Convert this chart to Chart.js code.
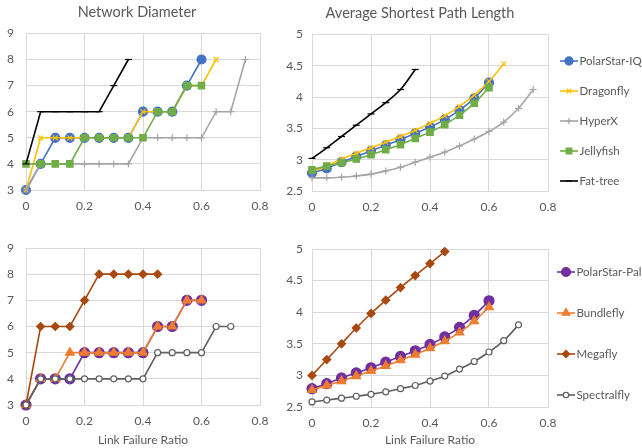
<!DOCTYPE html>
<html>
<head>
<meta charset="utf-8">
<script src="https://cdn.jsdelivr.net/npm/chart.js@4.4.0/dist/chart.umd.min.js"></script>
<style>
  body { margin: 0; background: #fff; }
  #wrap { position: relative; width: 642px; height: 448px; overflow: hidden; }
  canvas { position: absolute; }
</style>
</head>
<body>
<div id="wrap">
  <canvas id="diamTop" width="274" height="220" style="left:0;top:0"></canvas>
  <canvas id="asplTop" width="366" height="220" style="left:276px;top:0"></canvas>
  <canvas id="diamBot" width="274" height="228" style="left:0;top:220px"></canvas>
  <canvas id="asplBot" width="366" height="228" style="left:276px;top:220px"></canvas>
</div>
<script>
// link failure ratio on the x axis
var failRatio = [0, 0.05, 0.1, 0.15, 0.2, 0.25, 0.3, 0.35, 0.4, 0.45, 0.5, 0.55, 0.6, 0.65, 0.7, 0.75];
var xTicks = [0, 0.2, 0.4, 0.6, 0.8];

// network diameter, top group
var diamPolarIQ  = [3, 4, 5, 5, 5, 5, 5, 5, 6, 6, 6, 7, 8];
var diamDragon   = [3, 5, 5, 5, 5, 5, 5, 5, 6, 6, 6, 7, 7, 8];
var diamHyperX   = [3, 4, 4, 4, 4, 4, 4, 4, 5, 5, 5, 5, 5, 6, 6, 8];
var diamJelly    = [4, 4, 4, 4, 5, 5, 5, 5, 5, 6, 6, 7, 7];
var diamFatTree  = [4, 6, 6, 6, 6, 6, 7, 8];

// average shortest path length, top group
var asplPolarIQ  = [2.79, 2.86, 2.96, 3.05, 3.14, 3.23, 3.32, 3.42, 3.52, 3.64, 3.79, 3.98, 4.23];
var asplDragon   = [2.81, 2.90, 3.01, 3.10, 3.19, 3.28, 3.37, 3.47, 3.58, 3.70, 3.85, 4.03, 4.25, 4.53];
var asplHyperX   = [2.71, 2.71, 2.72, 2.74, 2.77, 2.82, 2.88, 2.96, 3.04, 3.12, 3.22, 3.33, 3.45, 3.60, 3.82, 4.12];
var asplJelly    = [2.84, 2.90, 2.95, 3.01, 3.08, 3.16, 3.24, 3.34, 3.44, 3.56, 3.71, 3.90, 4.15];
var asplFatTree  = [3.02, 3.19, 3.37, 3.55, 3.73, 3.91, 4.12, 4.44];

// network diameter, bottom group
var diamPolarPal = [3, 4, 4, 4, 5, 5, 5, 5, 5, 6, 6, 7, 7];
var diamBundle   = [3, 4, 4, 5, 5, 5, 5, 5, 5, 6, 6, 7, 7];
var diamMega     = [3, 6, 6, 6, 7, 8, 8, 8, 8, 8];
var diamSpectral = [3, 4, 4, 4, 4, 4, 4, 4, 4, 5, 5, 5, 5, 6, 6];

// average shortest path length, bottom group
var asplPolarPal = [2.79, 2.87, 2.96, 3.04, 3.12, 3.21, 3.30, 3.39, 3.49, 3.61, 3.76, 3.95, 4.18];
var asplBundle   = [2.77, 2.84, 2.91, 2.99, 3.07, 3.15, 3.24, 3.33, 3.43, 3.54, 3.68, 3.86, 4.08];
var asplMega     = [3.00, 3.25, 3.50, 3.75, 3.98, 4.19, 4.39, 4.58, 4.77, 4.96];
var asplSpectral = [2.58, 2.61, 2.64, 2.67, 2.70, 2.74, 2.79, 2.84, 2.91, 2.99, 3.10, 3.22, 3.37, 3.55, 3.80];

var FONT = 'Lato, "Open Sans", sans-serif';
var TEXT = '#595959';
var GRID = '#d9d9d9';
Chart.defaults.font.family = FONT;
Chart.defaults.color = TEXT;

var styles = {
  'PolarStar-IQ':  { color: '#4472c4', point: 'circle',    r: 4.5, fill: '#4472c4' },
  'Dragonfly':     { color: '#ffc000', point: 'crossRot',  r: 3.5, fill: '#ffc000' },
  'HyperX':        { color: '#a5a5a5', point: 'cross',     r: 3.5, fill: '#a5a5a5' },
  'Jellyfish':     { color: '#70ad47', point: 'rect',      r: 4.5, fill: '#70ad47' },
  'Fat-tree':      { color: '#000000', point: 'line',      r: 3.5, fill: '#000000' },
  'PolarStar-Pal': { color: '#7030a0', point: 'circle',    r: 5,   fill: '#7030a0' },
  'Bundlefly':     { color: '#ed7d31', point: 'triangle',  r: 5,   fill: '#ed7d31' },
  'Megafly':       { color: '#a8490f', point: 'rectRot',   r: 4,   fill: '#a8490f' },
  'Spectralfly':   { color: '#606060', point: 'circle',    r: 3,   fill: '#ffffff' }
};

function makeSet(label, vals, i, n, smooth) {
  var s = styles[label];
  return {
    label: label,
    data: vals.map(function (v, k) { return { x: failRatio[k], y: v }; }),
    borderColor: s.color,
    backgroundColor: s.fill,
    borderWidth: 1.6,
    pointStyle: s.point,
    pointRadius: s.r,
    pointBackgroundColor: s.fill,
    pointBorderColor: s.color,
    pointBorderWidth: 1.2,
    tension: smooth ? 0.35 : 0,
    clip: false,
    order: n - i
  };
}

// legend at the right side: short line with the marker and the name
var sideLegend = {
  id: 'sideLegend',
  afterDraw: function (chart, args, opts) {
    if (!opts.show) return;
    var ctx = chart.ctx;
    var x = chart.chartArea.right + opts.offsetX;
    chart.data.datasets.forEach(function (ds, i) {
      var y = opts.top + i * opts.gap;
      ctx.save();
      ctx.strokeStyle = ds.borderColor;
      ctx.lineWidth = ds.borderWidth;
      ctx.beginPath();
      ctx.moveTo(x, y);
      ctx.lineTo(x + 18, y);
      ctx.stroke();
      ctx.fillStyle = ds.pointBackgroundColor;
      ctx.strokeStyle = ds.pointBorderColor;
      ctx.lineWidth = ds.pointBorderWidth;
      Chart.helpers.drawPoint(ctx, { pointStyle: ds.pointStyle, radius: ds.pointRadius * 0.9, rotation: 0, borderWidth: ds.pointBorderWidth }, x + 9, y);
      ctx.fillStyle = TEXT;
      ctx.font = '11.5px ' + FONT;
      ctx.textBaseline = 'middle';
      ctx.textAlign = 'left';
      ctx.fillText(ds.label, x + 19.5, y + 0.5);
      ctx.restore();
    });
  }
};

function drawPanel(id, cfg) {
  var yTicks = [];
  for (var v = cfg.yMin; v <= cfg.yMax + 1e-9; v += cfg.yStep) yTicks.push(+v.toFixed(2));
  new Chart(document.getElementById(id), {
    type: 'line',
    data: { datasets: cfg.sets },
    plugins: [sideLegend],
    options: {
      responsive: false,
      animation: false,
      layout: { padding: { top: cfg.padTop, right: cfg.padRight, left: 0, bottom: 0 } },
      plugins: {
        legend: { display: false },
        tooltip: { enabled: false },
        title: {
          display: !!cfg.title,
          text: cfg.title,
          color: TEXT,
          font: { size: 14.5, weight: 'normal' },
          padding: cfg.titlePad
        },
        sideLegend: cfg.legend
      },
      scales: {
        x: {
          type: 'linear',
          min: 0, max: 0.8,
          afterBuildTicks: function (s) { s.ticks = xTicks.map(function (t) { return { value: t }; }); },
          afterFit: function (s) { s.height = cfg.xHeight; s.paddingRight = cfg.xPadRight || 0; },
          grid: { color: GRID, lineWidth: 1, drawTicks: false },
          border: { color: GRID },
          ticks: { padding: 9, font: { size: 12 }, callback: function (v) { return String(+v.toFixed(1)); } },
          title: {
            display: !!cfg.xTitle,
            text: cfg.xTitle,
            font: { size: 12 },
            padding: { top: 0, bottom: 1 }
          }
        },
        y: {
          min: cfg.yMin, max: cfg.yMax,
          afterBuildTicks: function (s) { s.ticks = yTicks.map(function (t) { return { value: t }; }); },
          afterFit: function (s) { s.width = cfg.yWidth; },
          grid: { color: GRID, lineWidth: 1, drawTicks: false },
          border: { color: GRID },
          ticks: { padding: cfg.yPad, font: { size: 12 }, callback: function (v) { return String(v); } }
        }
      }
    }
  });
}

var topNames = ['PolarStar-IQ', 'Dragonfly', 'HyperX', 'Jellyfish', 'Fat-tree'];
var botNames = ['PolarStar-Pal', 'Bundlefly', 'Megafly', 'Spectralfly'];

drawPanel('diamTop', {
  title: 'Network Diameter', titlePad: { top: 4, bottom: 12 },
  sets: [diamPolarIQ, diamDragon, diamHyperX, diamJelly, diamFatTree].map(function (d, i) { return makeSet(topNames[i], d, i, 5, false); }),
  yMin: 3, yMax: 9, yStep: 1, yWidth: 26, yPad: 12,
  padTop: 0, padRight: 0, xHeight: 30, xPadRight: 14,
  legend: { show: false }
});

drawPanel('asplTop', {
  title: 'Average Shortest Path Length', titlePad: { top: 5, bottom: 12 },
  sets: [asplPolarIQ, asplDragon, asplHyperX, asplJelly, asplFatTree].map(function (d, i) { return makeSet(topNames[i], d, i, 5, true); }),
  yMin: 2.5, yMax: 5, yStep: 0.5, yWidth: 36, yPad: 9,
  padTop: 0, padRight: 78, xHeight: 29, xPadRight: 94,
  legend: { show: true, offsetX: 12, top: 61, gap: 30 }
});

drawPanel('diamBot', {
  sets: [diamPolarPal, diamBundle, diamMega, diamSpectral].map(function (d, i) { return makeSet(botNames[i], d, i, 4, false); }),
  yMin: 3, yMax: 9, yStep: 1, yWidth: 26, yPad: 12,
  padTop: 28, padRight: 0, xHeight: 43, xPadRight: 14, xTitle: 'Link Failure Ratio',
  legend: { show: false }
});

drawPanel('asplBot', {
  sets: [asplPolarPal, asplBundle, asplMega, asplSpectral].map(function (d, i) { return makeSet(botNames[i], d, i, 4, true); }),
  yMin: 2.5, yMax: 5, yStep: 0.5, yWidth: 36, yPad: 9,
  padTop: 29, padRight: 78, xHeight: 41, xPadRight: 94, xTitle: 'Link Failure Ratio',
  legend: { show: true, offsetX: 9, top: 52, gap: 41 }
});
</script>
</body>
</html>
